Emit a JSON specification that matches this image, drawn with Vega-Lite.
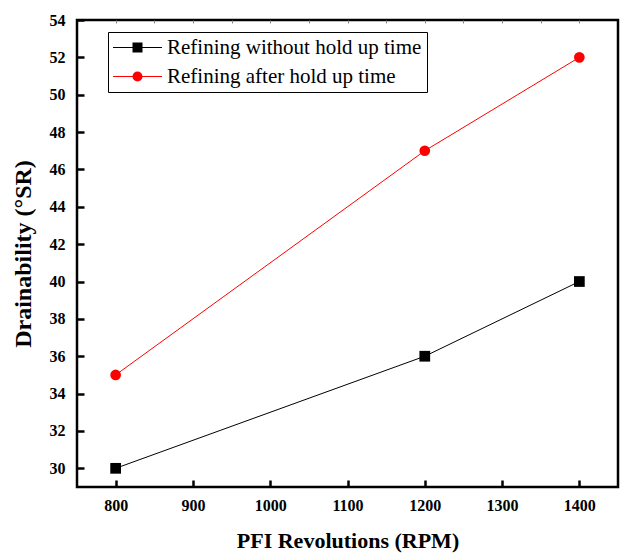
{
  "$schema": "https://vega.github.io/schema/vega-lite/v6.json",
  "width": 541,
  "height": 467,
  "autosize": "none",
  "padding": {"left": 77, "top": 20, "right": 7, "bottom": 68},
  "background": "white",
  "config": {
    "view": {"stroke": "black", "strokeWidth": 2.5},
    "font": "Liberation Serif",
    "axis": {"grid": false, "domain": false, "labelFont": "Liberation Serif", "titleFont": "Liberation Serif", "labelColor": "black", "titleColor": "black", "labelFontWeight": "bold", "labelFontSize": 16}
  },
  "data": {
    "values": [
      {"rpm": 800, "sr": 30, "series": "Refining without hold up time"},
      {"rpm": 1200, "sr": 36, "series": "Refining without hold up time"},
      {"rpm": 1400, "sr": 40, "series": "Refining without hold up time"},
      {"rpm": 800, "sr": 35, "series": "Refining after hold up time"},
      {"rpm": 1200, "sr": 47, "series": "Refining after hold up time"},
      {"rpm": 1400, "sr": 52, "series": "Refining after hold up time"}
    ]
  },
  "layer": [
    {
      "mark": {"type": "line", "strokeWidth": 1},
      "encoding": {
        "x": {"field": "rpm", "type": "quantitative", "scale": {"domain": [750, 1450], "nice": false, "zero": false},
          "axis": {"orient": "bottom", "title": "PFI Revolutions (RPM)", "values": [800, 900, 1000, 1100, 1200, 1300, 1400], "format": "d",
            "tickSize": -7, "tickWidth": 2.5, "tickColor": "black", "labelPadding": 17,
            "titleFontSize": 22, "titleFontWeight": "bold", "titlePadding": 17}},
        "y": {"field": "sr", "type": "quantitative", "scale": {"domain": [29, 54], "nice": false, "zero": false},
          "axis": {"orient": "left", "title": "Drainability (°SR)", "values": [30, 32, 34, 36, 38, 40, 42, 44, 46, 48, 50, 52, 54], "format": "d",
            "tickSize": -7, "tickWidth": 2.5, "tickColor": "black", "labelPadding": 19,
            "titleFontSize": 24, "titleFontWeight": "bold", "titlePadding": 14}},
        "stroke": {"field": "series", "type": "nominal",
          "scale": {"domain": ["Refining after hold up time", "Refining without hold up time"], "range": ["#ff0000", "#000000"]},
          "legend": {"title": null, "orient": "none", "legendX": 31, "legendY": 12, "strokeColor": "black", "padding": 5,
            "values": ["Refining without hold up time", "Refining after hold up time"],
            "symbolType": "M-4.9,0H4.9", "symbolSize": 100, "symbolStrokeWidth": 1, "symbolOffset": 14, "labelOffset": 19,
            "labelFont": "Liberation Serif", "labelFontSize": 21, "labelColor": "black", "rowPadding": 7, "labelLimit": 400}}
      }
    },
    {
      "mark": {"type": "point", "filled": true, "opacity": 1, "size": 115, "strokeWidth": 0},
      "encoding": {
        "x": {"field": "rpm", "type": "quantitative",
          "axis": {"orient": "top", "title": null, "labels": false, "values": [800, 850, 900, 950, 1000, 1050, 1100, 1150, 1200, 1250, 1300, 1350, 1400],
            "tickSize": -3, "tickWidth": 1, "tickColor": "#888888"}},
        "y": {"field": "sr", "type": "quantitative",
          "axis": {"orient": "right", "title": null, "labels": false, "ticks": false}},
        "color": {"field": "series", "type": "nominal",
          "scale": {"domain": ["Refining without hold up time", "Refining after hold up time"], "range": ["#000000", "#ff0000"]},
          "legend": {"title": null, "orient": "none", "legendX": 31, "legendY": 12, "strokeColor": "transparent", "padding": 5,
            "symbolSize": 100, "symbolStrokeWidth": 0, "symbolOffset": 14, "labelOffset": 19,
            "labelFont": "Liberation Serif", "labelFontSize": 21, "labelColor": "transparent", "rowPadding": 7, "labelLimit": 400}},
        "shape": {"field": "series", "type": "nominal",
          "scale": {"domain": ["Refining without hold up time", "Refining after hold up time"], "range": ["square", "circle"]},
          "legend": null}
      }
    }
  ],
  "resolve": {"axis": {"x": "independent", "y": "independent"}}
}
